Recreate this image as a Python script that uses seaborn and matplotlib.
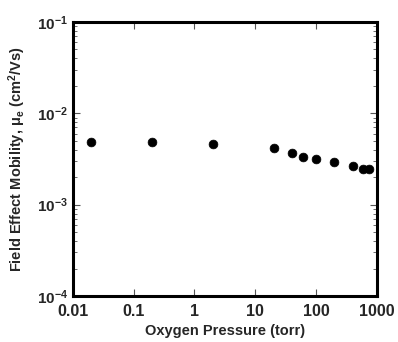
import matplotlib
matplotlib.use("Agg")
import matplotlib.pyplot as plt
import seaborn as sns
import pandas as pd
from matplotlib.ticker import LogLocator, NullFormatter, FixedLocator

sns.set_theme(style="ticks")
plt.rcParams['font.family'] = ['Liberation Sans', 'DejaVu Sans']
plt.rcParams['mathtext.fontset'] = 'custom'
plt.rcParams['mathtext.rm'] = 'Liberation Sans:bold'
plt.rcParams['mathtext.it'] = 'Liberation Sans:bold'
plt.rcParams['mathtext.bf'] = 'Liberation Sans:bold'

pressure = [0.02, 0.2, 2, 20, 40, 60, 100, 200, 400, 600, 750]
mobility = [4.85e-3, 4.8e-3, 4.6e-3, 4.2e-3, 3.67e-3, 3.3e-3, 3.13e-3, 2.93e-3, 2.65e-3, 2.47e-3, 2.45e-3]
xticks = [0.01, 0.1, 1, 10, 100, 1000]
xticklabels = ["0.01", "0.1", "1", "10", "100", "1000"]
yticks = [1e-4, 1e-3, 1e-2, 1e-1]
yticklabels = ["$10^{-4}$", "$10^{-3}$", "$10^{-2}$", "$10^{-1}$"]

df = pd.DataFrame({"p": pressure, "mu": mobility})

fig = plt.figure(figsize=(3.98, 3.42), dpi=100)
ax = fig.add_axes([0.183, 0.1345, 0.764, 0.8012])
sns.scatterplot(data=df, x="p", y="mu", ax=ax, color="black", s=40, edgecolor="black", linewidth=0.5)
ax.set_xscale("log")
ax.set_yscale("log")
ax.set_xlim(0.01, 1000)
ax.set_ylim(1e-4, 1e-1)
ax.xaxis.set_major_locator(FixedLocator(xticks))
ax.set_xticklabels(xticklabels, fontsize=11.5, fontweight="bold")
ax.xaxis.set_minor_locator(FixedLocator([]))
ax.yaxis.set_major_locator(FixedLocator(yticks))
ax.set_yticklabels(yticklabels, fontsize=11, fontweight="bold")
ax.yaxis.set_minor_locator(LogLocator(base=10, subs=range(2, 10)))
ax.yaxis.set_minor_formatter(NullFormatter())
ax.tick_params(which="both", direction="in", top=True, right=True, color="#555555")
ax.tick_params(which="major", length=5, width=0.8)
ax.tick_params(which="minor", length=3, width=0.6)
ax.tick_params(axis="x", pad=6)
for sp in ax.spines.values():
    sp.set_linewidth(2.2)
    sp.set_color("black")
ax.set_xlabel("Oxygen Pressure (torr)", fontsize=10.5, fontweight="bold", labelpad=3)
ax.set_ylabel(r"Field Effect Mobility, $\mu_e$ (cm$^2$/Vs)", fontsize=10.5, fontweight="bold", labelpad=6)
fig.savefig("out.png", dpi=100, facecolor="white")
